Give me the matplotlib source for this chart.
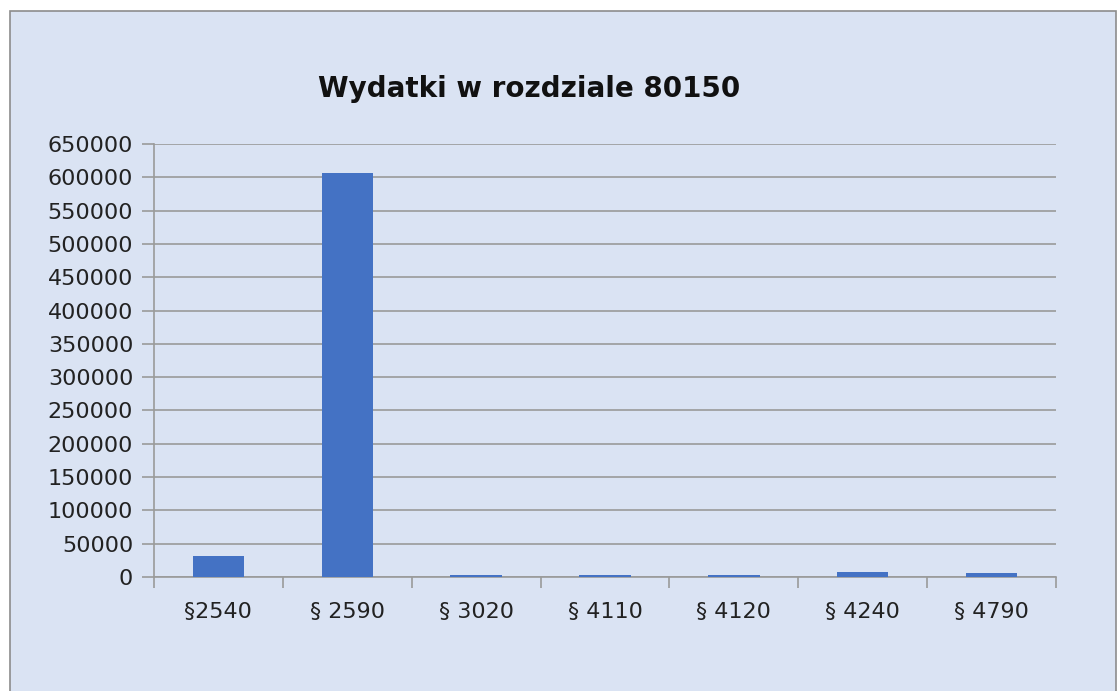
import matplotlib
matplotlib.use("Agg")
import matplotlib.pyplot as plt
from matplotlib.patches import Rectangle
import numpy as np

categories = ["§2540", "§ 2590", "§ 3020", "§ 4110", "§ 4120", "§ 4240", "§ 4790"]
values = [31500, 606000, 3000, 3000, 3000, 8000, 6000]
yticks = list(range(0, 650001, 50000))

bg = "#DAE3F3"
grid_c = "#9A9A9A"
fnt = "DejaVu Sans"

fig = plt.figure(figsize=(11.18, 6.91), dpi=100)
fig.patch.set_facecolor("white")
fig.add_artist(Rectangle((9.5/1118, -0.01), (1116-9.5)/1118, 1 - 11/691 + 0.01,
                         transform=fig.transFigure, facecolor=bg,
                         edgecolor="#8C8C8C", linewidth=1.2, zorder=0))

ax = fig.add_axes([154/1118, 1-577/691, (1056-154)/1118, (577-144)/691])
ax.set_facecolor("none")
x = np.arange(len(categories))
ax.bar(x, values, width=0.4, color="#4472C4", zorder=3)
ax.set_xlim(-0.5, len(categories)-0.5)
ax.set_ylim(0, 650000)
ax.set_yticks(yticks)
ax.set_yticklabels([str(v) for v in yticks], fontsize=16, family=fnt, color="#222222")
ax.yaxis.grid(True, color=grid_c, linewidth=1.2, zorder=0)
ax.tick_params(axis="y", length=9, color=grid_c, width=1.2, pad=6)
ax.set_xticks(np.arange(-0.5, len(categories), 1.0))
ax.set_xticklabels([])
ax.set_xticks(x, minor=True)
ax.set_xticklabels(categories, minor=True, fontsize=16, family=fnt, color="#222222")
ax.tick_params(axis="x", which="major", length=8, color=grid_c, width=1.2)
ax.tick_params(axis="x", which="minor", length=0, pad=18)
for s in ["top", "right"]:
    ax.spines[s].set_visible(False)
for s in ["left", "bottom"]:
    ax.spines[s].set_color(grid_c)
    ax.spines[s].set_linewidth(1.2)

fig.text(529/1118, 1-89/691, "Wydatki w rozdziale 80150", ha="center", va="center",
         fontsize=20, fontweight="bold", family=fnt, color="#111111")

fig.savefig("out.png", dpi=100, facecolor="white")
